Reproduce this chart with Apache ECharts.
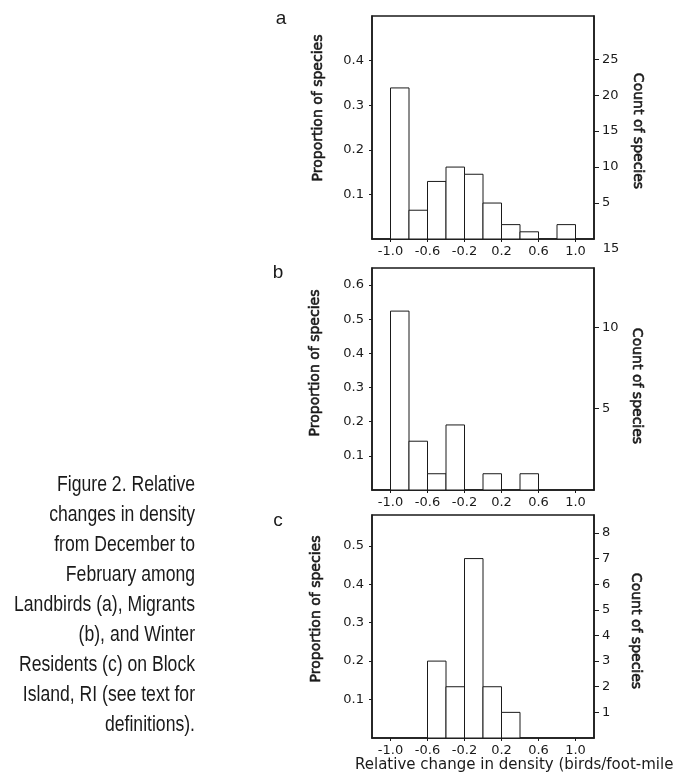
<!DOCTYPE html>
<html>
<head>
<meta charset="utf-8">
<script src="https://cdn.jsdelivr.net/npm/echarts@6/dist/echarts.min.js"></script>
<style>
html, body { margin: 0; padding: 0; background: #fff; }
#main { width: 682px; height: 783px; }
</style>
</head>
<body>
<div id="main"></div>
<script>
//bins (left edge of each 0.2 wide bin)
var binStarts = [-1.0, -0.8, -0.6, -0.4, -0.2, 0.0, 0.2, 0.4, 0.6, 0.8];
var binWidth = 0.2;
//counts of species per bin
var countsA = [21, 4, 8, 10, 9, 5, 2, 1, 0, 2];   //Landbirds
var countsB = [11, 3, 1, 4, 0, 1, 0, 1, 0, 0];    //Migrants
var countsC = [0, 0, 3, 2, 7, 2, 1, 0, 0, 0];     //Winter residents
//tick labels
var xTicks = [-1.0, -0.6, -0.2, 0.2, 0.6, 1.0];
var propTicksA = [0.1, 0.2, 0.3, 0.4];
var propTicksB = [0.1, 0.2, 0.3, 0.4, 0.5, 0.6];
var propTicksC = [0.1, 0.2, 0.3, 0.4, 0.5];
var countTicksA = [5, 10, 15, 20, 25];
var countTicksB = [5, 10];
var countTicksC = [1, 2, 3, 4, 5, 6, 7, 8];
//top of each proportion axis
var propMaxA = 0.5;
var propMaxB = 0.65;
var propMaxC = 0.58;

var tickFont = 'DejaVu Sans';
var ink = '#1a1a1a';

function sum(arr) {
	var s = 0;
	for (var i = 0; i < arr.length; i++) {
		s += arr[i];
	}
	return s;
}

function renderBin(params, api) {
	var c = api.value(1);
	if (!c) {
		return null;
	}
	var x0 = api.value(0);
	var p0 = api.coord([x0, c]);
	var p1 = api.coord([x0 + binWidth, 0]);
	return {
		type: 'rect',
		shape: { x: p0[0], y: p0[1], width: p1[0] - p0[0], height: p1[1] - p0[1] },
		style: { fill: '#fff', stroke: ink, lineWidth: 1 }
	};
}

var grids = [];
var xAxes = [];
var yAxes = [];
var series = [];

function addPanel(idx, top, height, counts, propMax, propTicks, countTicks) {
	var total = sum(counts);
	grids.push({
		left: 372, width: 222, top: top, height: height,
		show: true, borderColor: ink, borderWidth: 1.5, backgroundColor: 'transparent'
	});
	xAxes.push({
		type: 'value', gridIndex: idx, min: -1.2, max: 1.2,
		axisLine: { show: true, onZero: false, lineStyle: { color: ink, width: 1.5 } },
		axisTick: { show: true, length: 3, customValues: xTicks, lineStyle: { color: ink } },
		axisLabel: {
			customValues: xTicks, margin: 6, color: ink, fontFamily: tickFont, fontSize: 13,
			formatter: function (v) { return v.toFixed(1); }
		},
		splitLine: { show: false }
	});
	yAxes.push({
		type: 'value', gridIndex: idx, position: 'left', min: 0, max: propMax,
		axisLine: { show: true, onZero: false, lineStyle: { color: ink, width: 1.5 } },
		axisTick: { show: true, length: 3, customValues: propTicks, lineStyle: { color: ink } },
		axisLabel: {
			customValues: propTicks, margin: 8, color: ink, fontFamily: tickFont, fontSize: 13,
			formatter: function (v) { return v.toFixed(1); }
		},
		splitLine: { show: false }
	});
	yAxes.push({
		type: 'value', gridIndex: idx, position: 'right', min: 0, max: propMax * total,
		axisLine: { show: true, onZero: false, lineStyle: { color: ink, width: 1.5 } },
		axisTick: { show: true, length: 5, customValues: countTicks, lineStyle: { color: ink } },
		axisLabel: {
			customValues: countTicks, margin: 8, color: ink, fontFamily: tickFont, fontSize: 13
		},
		splitLine: { show: false }
	});
	var data = [];
	for (var i = 0; i < binStarts.length; i++) {
		data.push([binStarts[i], counts[i]]);
	}
	series.push({
		type: 'custom', xAxisIndex: idx, yAxisIndex: idx * 2 + 1,
		renderItem: renderBin, data: data, silent: true, animation: false
	});
}

addPanel(0, 16, 223, countsA, propMaxA, propTicksA, countTicksA);
addPanel(1, 268, 222, countsB, propMaxB, propTicksB, countTicksB);
addPanel(2, 515, 223, countsC, propMaxC, propTicksC, countTicksC);

function txt(x, y, text, font, rot, align, sx, heavy) {
	return {
		type: 'text', x: x, y: y, rotation: rot || 0, scaleX: sx || 1,
		style: {
			text: text, x: 0, y: 0, font: font, fill: ink,
			stroke: heavy ? ink : null, lineWidth: heavy ? 0.6 : 0,
			align: align || 'center', verticalAlign: 'middle',
			textAlign: align || 'center', textVerticalAlign: 'middle'
		}
	};
}

var axisTitleFont = '14px "DejaVu Sans"';
var captionFont = '22px "Liberation Sans"';
var captionLines = [
	'Figure 2. Relative',
	'changes in density',
	'from December to',
	'February among',
	'Landbirds (a), Migrants',
	'(b), and Winter',
	'Residents (c) on Block',
	'Island, RI (see text for',
	'definitions).'
];

var graphics = [
	txt(281, 19, 'a', '19px "Liberation Sans"'),
	txt(278, 273, 'b', '19px "Liberation Sans"'),
	txt(278, 521, 'c', '19px "Liberation Sans"'),
	txt(318, 108, 'Proportion of species', axisTitleFont, Math.PI / 2, 'center', 1, true),
	txt(315, 363, 'Proportion of species', axisTitleFont, Math.PI / 2, 'center', 1, true),
	txt(316, 609, 'Proportion of species', axisTitleFont, Math.PI / 2, 'center', 1, true),
	txt(638, 131, 'Count of species', axisTitleFont, -Math.PI / 2, 'center', 1, true),
	txt(637, 386, 'Count of species', axisTitleFont, -Math.PI / 2, 'center', 1, true),
	txt(636, 631, 'Count of species', axisTitleFont, -Math.PI / 2, 'center', 1, true),
	txt(611, 249, '15', '13px "DejaVu Sans"'),
	txt(355, 765, 'Relative change in density (birds/foot-mile', '15px "DejaVu Sans"', 0, 'left')
];
for (var i = 0; i < captionLines.length; i++) {
	graphics.push(txt(195, 485 + i * 30, captionLines[i], captionFont, 0, 'right', 0.8));
}

var myChart = echarts.init(document.getElementById('main'), null, { renderer: 'canvas' });
var option = {
	backgroundColor: '#fff',
	animation: false,
	grid: grids,
	xAxis: xAxes,
	yAxis: yAxes,
	series: series,
	graphic: graphics
};
myChart.setOption(option);
</script>
</body>
</html>
